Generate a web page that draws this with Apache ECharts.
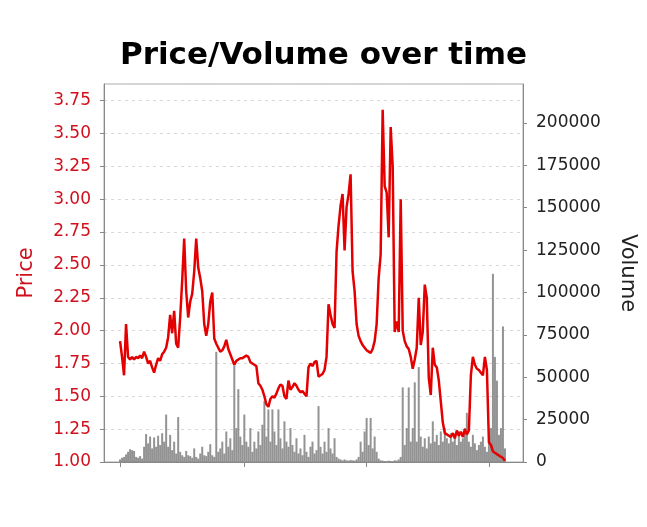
<!DOCTYPE html>
<html><head><meta charset="utf-8">
<script src="https://cdn.jsdelivr.net/npm/echarts@6/dist/echarts.min.js"></script>
<style>html,body{margin:0;padding:0;background:#fff}#c{width:647px;height:527px}</style>
</head><body><div id="c"></div>
<script>
const chartTitle = 'Price/Volume over time';
const priceName = 'Price';
const volumeName = 'Volume';

// daily closing price (one value per trading slot)
const price = [
1.92,1.80,1.66,2.05,1.80,1.78,1.80,1.78,1.80,1.79,
1.81,1.79,1.84,1.80,1.75,1.77,1.72,1.68,1.74,1.79,
1.77,1.82,1.84,1.87,1.95,2.12,1.98,2.15,1.90,1.87,
2.10,2.38,2.70,2.30,2.10,2.22,2.28,2.45,2.70,2.48,
2.40,2.30,2.05,1.96,2.05,2.22,2.29,1.94,1.90,1.87,
1.84,1.85,1.88,1.93,1.86,1.82,1.78,1.74,1.77,1.78,
1.79,1.79,1.80,1.81,1.80,1.76,1.75,1.74,1.73,1.60,
1.58,1.55,1.50,1.44,1.42,1.48,1.50,1.49,1.52,1.56,
1.59,1.58,1.50,1.48,1.62,1.55,1.57,1.60,1.58,1.55,
1.53,1.54,1.52,1.50,1.72,1.75,1.73,1.76,1.77,1.65,
1.66,1.67,1.70,1.80,2.20,2.12,2.05,2.02,2.60,2.80,
2.95,3.04,2.61,2.94,3.04,3.19,2.45,2.30,2.05,1.96,
1.92,1.89,1.87,1.85,1.84,1.83,1.86,1.92,2.05,2.40,
2.58,3.68,3.10,3.05,2.71,3.55,3.25,1.99,2.07,1.99,
3.00,2.00,1.92,1.88,1.86,1.80,1.71,1.78,1.87,2.25,
1.89,1.99,2.35,2.25,1.64,1.51,1.87,1.74,1.72,1.62,
1.46,1.30,1.22,1.21,1.20,1.19,1.22,1.18,1.24,1.20,
1.23,1.19,1.25,1.21,1.24,1.66,1.80,1.74,1.71,1.70,
1.68,1.66,1.80,1.70,1.15,1.13,1.08,1.07,1.06,1.05,
1.04,1.03,1.01
];

// daily traded volume (same slots as price)
const volume = [
1500,2500,3000,4500,6000,7500,7000,6500,3000,2500,
3500,2000,9000,16500,11000,15000,8000,14500,9000,15500,
10000,17000,12000,28000,9000,16000,7000,12000,5000,26500,
6000,4000,3000,6500,4000,3500,2500,8000,3000,2000,
5000,9000,4000,3500,6000,10500,4000,3000,65000,6000,
8000,12000,5000,18000,9000,14000,7000,57000,20000,43000,
15000,10000,28000,12000,9000,20000,6000,12000,8000,18000,
10000,22000,36000,15000,31000,12000,31000,18000,10000,31000,
14000,8000,24000,12000,9000,20000,10000,6000,14000,5000,
8000,4000,16000,6000,3000,9000,12000,5000,7000,33000,
9000,5000,12000,6000,20000,8000,5000,14000,3000,2000,
1500,1000,1500,1000,800,1200,1000,800,1500,3000,
12000,6000,18000,26000,10000,26000,8000,15000,6000,2000,
1000,800,600,500,800,600,500,1000,800,1500,
3000,44000,10000,20000,44000,12000,20000,47000,12000,56000,
15000,9000,14000,8000,15000,11000,24000,12000,16000,10000,
18000,12000,20000,14000,11000,17000,12000,15000,10000,18000,
12000,14000,20000,29000,12000,9000,16000,11000,7000,10000,
12000,15000,9000,6000,12000,20000,111000,62000,48000,16000,
20000,80000,8000
];

const slotCount = 210;   // time slots across the axis
const firstSlot = 8;     // slot of the first observation
const yearTickSlots = [8, 70, 131, 192];

const categories = Array.from({length: slotCount}, (_, i) => 'T' + i);
function place(arr) {
  const out = new Array(slotCount).fill(null);
  arr.forEach((v, i) => { out[firstSlot + i] = v; });
  return out;
}

const FONT = 'DejaVu Sans';
const RED = '#d0101c';
const chart = echarts.init(document.getElementById('c'), null, {renderer: 'canvas'});
chart.setOption({
  animation: false,
  backgroundColor: '#fff',
  title: {
    text: chartTitle, left: 'center', top: 35,
    textStyle: {fontFamily: FONT, fontWeight: 'bold', fontSize: 31, color: '#000'}
  },
  grid: {left: 104, right: 124, top: 84, bottom: 65, show: true, borderColor: '#aaa', borderWidth: 1},
  xAxis: {
    type: 'category', data: categories, boundaryGap: false,
    axisLine: {lineStyle: {color: '#888'}},
    axisTick: {show: true, length: 5, interval: (i) => yearTickSlots.includes(i), lineStyle: {color: '#888'}},
    axisLabel: {show: false},
    splitLine: {show: false}
  },
  yAxis: [
    {
      type: 'value', position: 'left', min: 1, max: 3.877, interval: 0.25,
      name: priceName, nameLocation: 'middle', nameGap: 67,
      nameTextStyle: {color: RED, fontSize: 21, fontFamily: FONT},
      axisLine: {show: true, lineStyle: {color: '#888'}},
      axisTick: {show: true, length: 4, lineStyle: {color: '#888'}},
      axisLabel: {color: RED, fontSize: 17, fontFamily: FONT, margin: 13, showMaxLabel: false,
        formatter: (v) => v.toFixed(2)},
      splitLine: {show: true, lineStyle: {color: '#d8d8d8', type: [3, 4]}}
    },
    {
      type: 'value', position: 'right', min: 0, max: 223000, interval: 25000,
      name: volumeName, nameLocation: 'middle', nameGap: 94, nameRotate: -90,
      nameTextStyle: {color: '#222', fontSize: 21, fontFamily: FONT},
      axisLine: {show: true, lineStyle: {color: '#888'}},
      axisTick: {show: true, length: 4, lineStyle: {color: '#888'}},
      axisLabel: {color: '#222', fontSize: 17, fontFamily: FONT, margin: 13, showMaxLabel: false,
        formatter: (v) => String(Math.round(v))},
      splitLine: {show: false}
    }
  ],
  series: [
    {
      type: 'bar', yAxisIndex: 1, data: place(volume), barWidth: 2,
      itemStyle: {color: 'rgba(128,128,128,0.85)'}, silent: true
    },
    {
      type: 'line', yAxisIndex: 0, data: place(price), showSymbol: false, connectNulls: false,
      lineStyle: {color: '#e40000', width: 2.5}, silent: true
    }
  ]
});
</script>
</body></html>
